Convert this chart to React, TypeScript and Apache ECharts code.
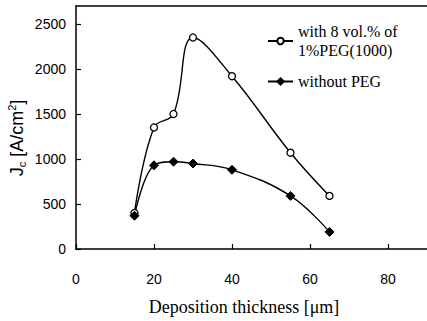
import React, { useEffect, useRef } from "react";
import * as echarts from "echarts";

const thickness = [15, 20, 25, 30, 40, 55, 65];
const withPEG = [400, 1350, 1500, 2350, 1920, 1070, 590];
const withoutPEG = [370, 930, 970, 950, 880, 590, 190];
const seriesNames = ["with 8 vol.% of\n1%PEG(1000)", "without PEG"];
const xTitle = "Deposition thickness [μm]";

export default function App() {
  const ref = useRef<HTMLDivElement>(null);
  useEffect(() => {
    if (!ref.current) return;
    const chart = echarts.init(ref.current, null, { renderer: "svg" });
    const sans = "Liberation Sans, Arial, sans-serif";
    const serif = "Liberation Serif, Times New Roman, serif";
    const plain = (v: number) => String(v);
    chart.setOption({
      animation: false,
      backgroundColor: "#fff",
      grid: { left: 76, top: 6, right: 0, bottom: 72 },
      xAxis: [
        {
          type: "value",
          min: 0,
          max: 90,
          interval: 20,
          axisLine: { lineStyle: { color: "#000", width: 1.5 } },
          axisTick: { inside: true, length: 5, lineStyle: { color: "#000", width: 1.2 } },
          axisLabel: { color: "#000", fontFamily: sans, fontSize: 14, margin: 23, showMaxLabel: false, formatter: plain },
          splitLine: { show: false },
        },
        {
          type: "value",
          position: "top",
          min: 0,
          max: 90,
          axisLine: { show: true, onZero: false, lineStyle: { color: "#000", width: 1.5 } },
          axisTick: { show: false },
          axisLabel: { show: false },
          splitLine: { show: false },
        },
      ],
      yAxis: {
        type: "value",
        min: 0,
        max: 2700,
        interval: 500,
        axisLine: { show: true, lineStyle: { color: "#000", width: 1.5 } },
        axisTick: { show: true, inside: true, length: 5, lineStyle: { color: "#000", width: 1.2 } },
        axisLabel: { color: "#000", fontFamily: sans, fontSize: 14, margin: 10, showMaxLabel: false, formatter: plain },
        splitLine: { show: false },
      },
      legend: {
        orient: "vertical",
        left: 262,
        top: 17,
        itemWidth: 25,
        itemHeight: 8,
        itemGap: 12,
        textStyle: { color: "#000", fontFamily: serif, fontSize: 16, lineHeight: 19 },
        data: seriesNames,
      },
      series: [
        {
          name: seriesNames[0],
          type: "line",
          data: thickness.map((x, i) => [x, withPEG[i]]),
          smooth: 0.4,
          symbol: "circle",
          symbolSize: 7,
          itemStyle: { color: "#fff", borderColor: "#000", borderWidth: 1.3 },
          lineStyle: { color: "#000", width: 1.4 },
        },
        {
          name: seriesNames[1],
          type: "line",
          data: thickness.map((x, i) => [x, withoutPEG[i]]),
          smooth: 0.4,
          symbol: "diamond",
          symbolSize: 9,
          itemStyle: { color: "#000", borderColor: "#000", borderWidth: 1 },
          lineStyle: { color: "#000", width: 1.4 },
        },
      ],
      graphic: [
        {
          type: "text",
          x: 17,
          y: 138,
          rotation: Math.PI / 2,
          style: {
            text: "{a|J}{s|c}{a| [A/cm}{p|2}{a|]}",
            align: "center",
            verticalAlign: "middle",
            fill: "#000",
            rich: {
              a: { fontFamily: sans, fontSize: 18, fill: "#000", lineHeight: 21 },
              s: { fontFamily: sans, fontSize: 11, fill: "#000", verticalAlign: "bottom", lineHeight: 21 },
              p: { fontFamily: sans, fontSize: 11, fill: "#000", verticalAlign: "top", lineHeight: 21 },
            },
          },
        },
        {
          type: "text",
          x: 244,
          y: 307,
          style: {
            text: xTitle,
            align: "center",
            verticalAlign: "middle",
            fill: "#000",
            font: "18px " + serif,
          },
        },
      ],
    });
    return () => chart.dispose();
  }, []);
  return <div ref={ref} style={{ width: 427, height: 321, position: "absolute", left: 0, top: 0 }} />;
}
